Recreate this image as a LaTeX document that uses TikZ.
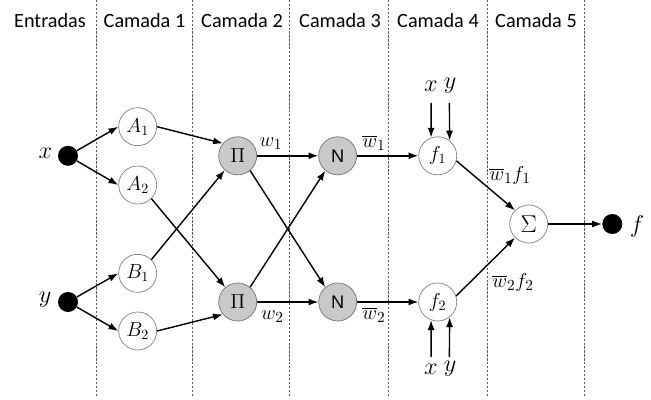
\documentclass[tikz,border=0pt]{standalone}
\usepackage{fontspec}
\setmainfont{Carlito}
\newfontfamily\arialfont{Liberation Sans}
\usetikzlibrary{arrows.meta}

\begin{document}
\begin{tikzpicture}[
  x=0.025cm,y=-0.025cm,
  >={Latex[length=7pt,width=5pt]},
  arr/.style={->,draw=black,line width=1pt},
  sep/.style={draw=black!65,line width=0.5pt,dash pattern=on 1.6pt off 1.2pt},
  unit/.style={circle,draw=black!50,line width=0.5pt,minimum size=0.95cm,inner sep=0pt,fill=white,font=\fontsize{14.4}{16}\selectfont},
  grayunit/.style={unit,draw=black!55,fill=black!21},
  dot/.style={circle,fill=black,minimum size=0.5cm,inner sep=0pt},
  head/.style={font=\fontsize{14.4}{17}\selectfont,inner sep=1pt},
  biglab/.style={font=\fontsize{17.28}{20}\selectfont,inner sep=1pt},
  wlab/.style={font=\fontsize{15.5}{18}\selectfont,inner sep=1pt}
]

% ---------------- geometry, in pixels of the 651x400 frame ----------------
\def\xIn{68}
\def\xA{137.7}
\def\xP{237.7}
\def\xN{337.7}
\def\xF{437.7}
\def\xS{528.7}
\def\xOut{612.3}
\def\yTop{155.8}
\def\yBot{302}
\def\yMid{224}

\useasboundingbox (0,0) rectangle (651,400);

% ---------------- layer separators and headers ----------------
\foreach \xs in {96,192,289,388,487,584}
  \draw[sep] (\xs,0) -- (\xs,396);

\node[head] (hIn) at (50,21) {Entradas};
\foreach \i/\xc in {1/144.5,2/242,3/340,4/438,5/536}
  \node[head] (h\i) at (\xc,21) {Camada \i};

% ---------------- inputs ----------------
\node[dot] (x) at (\xIn,\yTop) {};
\node[dot] (y) at (\xIn,\yBot) {};
\node[biglab] (xlab) at (45.5,153) {$x$};
\node[biglab] (ylab) at (45,300) {$y$};

% ---------------- layer 1: membership ----------------
\node[unit] (A1) at (\xA,126.7) {$A_1$};
\node[unit] (A2) at (\xA,185) {$A_2$};
\node[unit] (B1) at (\xA,273.3) {$B_1$};
\node[unit] (B2) at (\xA,331) {$B_2$};

\draw[arr] (x) -- (A1.west);
\draw[arr] (x) -- (A2.west);
\draw[arr] (y) -- (B1.west);
\draw[arr] (y) -- (B2.west);

% ---------------- layer 2: product ----------------
\node[grayunit] (P1) at (\xP,\yTop) {$\Pi$};
\node[grayunit] (P2) at (\xP,\yBot) {$\Pi$};

\draw[arr] (A1.east) -- (P1.140);
\draw[arr] (B1.45) -- (P1.-132);
\draw[arr] (A2.-45) -- (P2.130);
\draw[arr] (B2.east) -- (P2.-140);

% ---------------- layer 3: normalisation ----------------
\node[grayunit,font=\arialfont\fontsize{13}{15}\selectfont] (N1) at (\xN,\yTop) {N};
\node[grayunit,font=\arialfont\fontsize{13}{15}\selectfont] (N2) at (\xN,\yBot) {N};

\draw[arr] (P1.east) -- (N1.west);
\draw[arr] (P2.east) -- (N2.west);
\draw[arr] (P1.-50) -- (N2.130);
\draw[arr] (P2.50) -- (N1.-130);

\node[wlab] (w1) at (271,144) {$w_1$};
\node[wlab] (w2) at (272.5,317) {$w_2$};

% ---------------- layer 4: consequents ----------------
\node[unit] (f1) at (\xF,\yTop) {$f_1$};
\node[unit] (f2) at (\xF,\yBot) {$f_2$};

\draw[arr] (N1.east) -- (f1.west);
\draw[arr] (N2.east) -- (f2.west);

\node[wlab] (nw1) at (374,143) {$\overline{w}_1$};
\node[wlab] (nw2) at (374,315) {$\overline{w}_2$};

% premise inputs of f1 and f2
\coordinate (xin1) at (431.2,103);
\coordinate (yin1) at (449.4,103);
\coordinate (xin2) at (431.2,357);
\coordinate (yin2) at (449.4,357);
\node[biglab] (xf1) at (431,86) {$x$};
\node[biglab] (yf1) at (450,86) {$y$};
\node[biglab] (xf2) at (431,369) {$x$};
\node[biglab] (yf2) at (450,369) {$y$};

\draw[arr] (xin1) -- (f1.110);
\draw[arr] (yin1) -- (f1.52);
\draw[arr] (xin2) -- (f2.-110);
\draw[arr] (yin2) -- (f2.-52);

% ---------------- layer 5: sum and output ----------------
\node[unit,font=\fontsize{17.28}{20}\selectfont] (S) at (\xS,\yMid) {$\Sigma$};
\node[dot] (f) at (\xOut,\yMid) {};
\node[biglab] (flab) at (637,226) {$f$};

\draw[arr] (f1.-15) -- (S.135);
\draw[arr] (f2.18) -- (S.-135);
\draw[arr] (S.east) -- (f.west);

\node[wlab] (wf1) at (510,175) {$\overline{w}_1 f_1$};
\node[wlab] (wf2) at (513,282) {$\overline{w}_2 f_2$};

\end{tikzpicture}
\end{document}
